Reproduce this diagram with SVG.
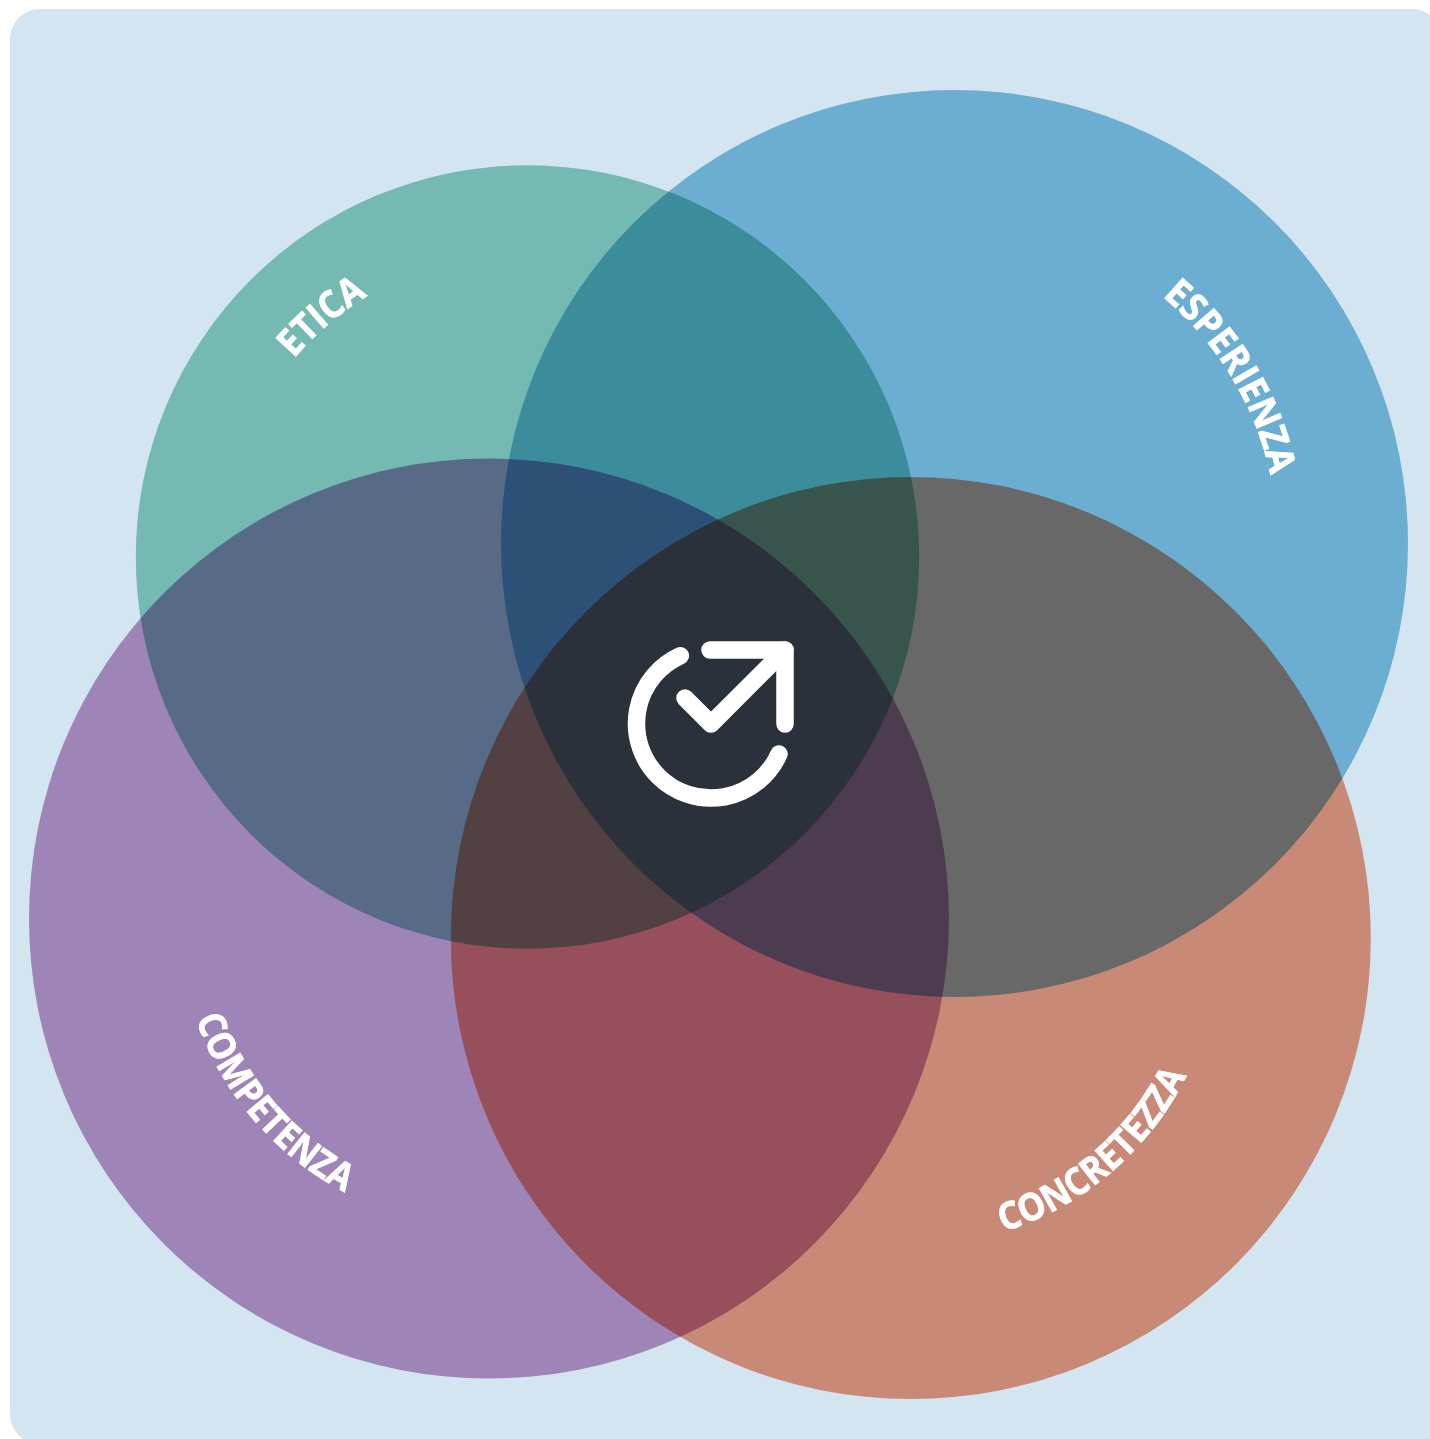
<svg xmlns="http://www.w3.org/2000/svg" width="1430" height="1439" viewBox="0 0 1430 1439">
<style>
.c{mix-blend-mode:multiply}
.l{font-family:"Open Sans","Noto Sans",sans-serif;font-weight:700;font-size:38px;fill:#fff;stroke:#fff;stroke-width:.7;text-anchor:middle}
.i{fill:none;stroke:#fff;stroke-width:17.5;stroke-linecap:round;stroke-linejoin:round}
</style>
<defs>
<path id="pe" d="M225.9 502.3A306 306 0 0 1 528.6 251"/>
<path id="ps" d="M1005.5 225A323 323 0 0 1 1260.4 649.2"/>
<path id="pc" d="M179.1 925.6A310 310 0 0 0 442.6 1224.5"/>
<path id="pk" d="M914.5 1246A308 308 0 0 0 1214.9 988"/>
</defs>
<rect width="1430" height="1439" fill="#fff"/>
<rect x="10" y="9" width="1432" height="1435" rx="30" fill="#d3e5f1"/>
<g id="etica">
<circle class="c" cx="527.500" cy="557" r="391.700" fill="#8ccebd"/>
<text class="l"><textPath href="#pe" startOffset="49%" textLength="97" lengthAdjust="spacingAndGlyphs">ETICA</textPath></text>
</g>
<g id="esperienza">
<circle class="c" cx="954.500" cy="543.500" r="453.500" fill="#82c2de"/>
<text class="l"><textPath href="#ps" startOffset="49.800%" textLength="213" lengthAdjust="spacingAndGlyphs">ESPERIENZA</textPath></text>
</g>
<g id="competenza">
<circle class="c" cx="489" cy="918.500" r="460" fill="#bf93c2"/>
<text class="l"><textPath href="#pc" startOffset="49%" textLength="234" lengthAdjust="spacingAndGlyphs">COMPETENZA</textPath></text>
</g>
<g id="concretezza">
<ellipse class="c" cx="910.800" cy="938" rx="460" ry="461" fill="#f2997e"/>
<text class="l"><textPath href="#pk" startOffset="49.700%" textLength="247" lengthAdjust="spacingAndGlyphs">CONCRETEZZA</textPath></text>
</g>
<g id="icon">
<path class="i" d="M680.300 655.700A74.500 74.500 0 1 0 779 754"/>
<path class="i" d="M710 650H785V724"/>
<path class="i" d="M685 698L711 724L785 650"/>
</g>
</svg>
